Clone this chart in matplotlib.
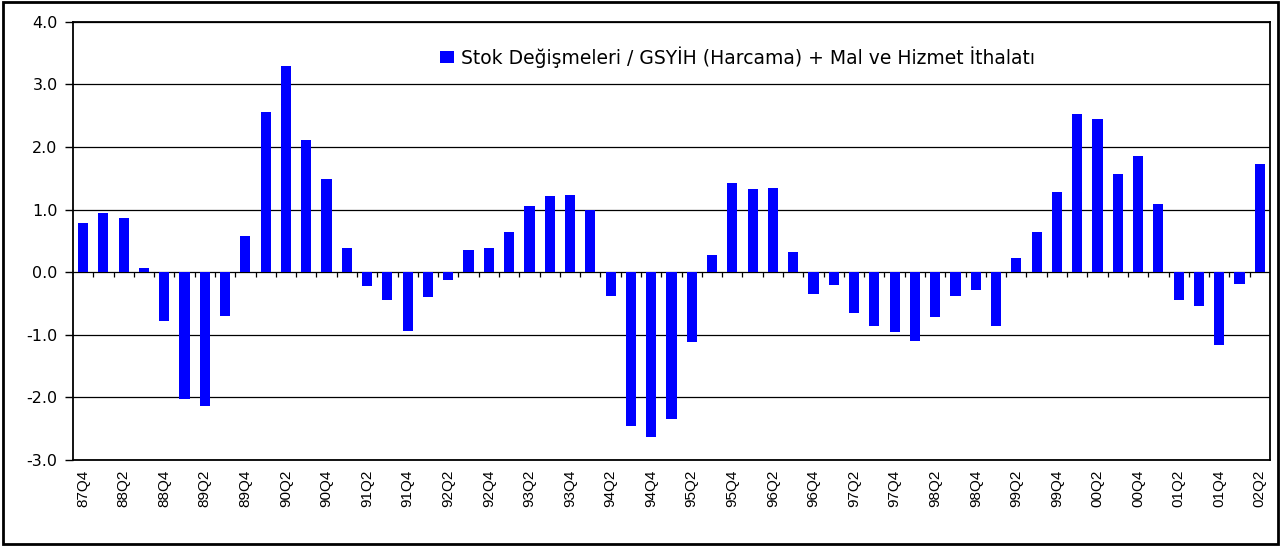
import numpy as np
import matplotlib.pyplot as plt
from matplotlib.patches import Rectangle

plt.rcParams['font.family'] = ['Liberation Sans', 'DejaVu Sans']

# quarters 87Q4 .. 02Q2
quarters = ['87Q4'] + [f'{y:02d}Q{q}' for y in list(range(88, 100)) + [0, 1] for q in range(1, 5)] + ['02Q1', '02Q2']

values = [0.79, 0.95, 0.87, 0.07, -0.78, -2.03, -2.13, -0.70, 0.58, 2.56,
          3.30, 2.11, 1.49, 0.39, -0.22, -0.44, -0.94, -0.40, -0.12, 0.36,
          0.38, 0.64, 1.05, 1.21, 1.24, 1.00, -0.38, -2.46, -2.64, -2.34,
          -1.12, 0.28, 1.43, 1.32, 1.35, 0.32, -0.35, -0.20, -0.65, -0.86,
          -0.95, -1.10, -0.71, -0.38, -0.29, -0.86, 0.23, 0.64, 1.28, 2.52,
          2.45, 1.57, 1.86, 1.09, -0.44, -0.54, -1.16, -0.19, 1.72]

series_name = 'Stok Değişmeleri / GSYİH (Harcama) + Mal ve Hizmet İthalatı'
yticks = [-3, -2, -1, 0, 1, 2, 3, 4]

fig = plt.figure(figsize=(12.82, 5.46), dpi=100)
ax = fig.add_axes([0.0569, 0.1575, 0.9337, 0.8028])

x = np.arange(len(quarters))
ax.bar(x, values, width=0.5, color='#0000ff', label=series_name, zorder=3)

ax.set_xlim(-0.5, len(quarters) - 0.5)
ax.set_ylim(-3, 4)
ax.set_yticks(yticks)
ax.set_yticklabels([f'{v:.1f}' for v in yticks], fontsize=11.5, family='DejaVu Sans')
ax.yaxis.grid(True, color='black', linewidth=0.9, zorder=1)

ax.set_xticks(x[::2])
ax.set_xticklabels(quarters[::2], rotation=90, fontsize=11, family='Liberation Sans')
ax.tick_params(axis='x', length=0, pad=7)
ax.tick_params(axis='y', length=6, width=1, direction='out', pad=5)

# small ticks between categories on the zero line
ax.vlines(x[:-1] + 0.5, 0, -0.07, color='black', linewidth=0.9, zorder=4)

for s in ax.spines.values():
    s.set_linewidth(1.3)

ax.legend(loc='center left', bbox_to_anchor=(0.3066, 0.919), frameon=False,
          prop={'family': 'DejaVu Sans', 'size': 13.5}, borderpad=0, borderaxespad=0,
          handlelength=0.75, handleheight=0.6, handletextpad=0.35)

fig.patches.append(Rectangle((0.002, 0.004), 0.995, 0.992, transform=fig.transFigure,
                             fill=False, edgecolor='black', linewidth=2))

fig.savefig('out.png', dpi=100)
